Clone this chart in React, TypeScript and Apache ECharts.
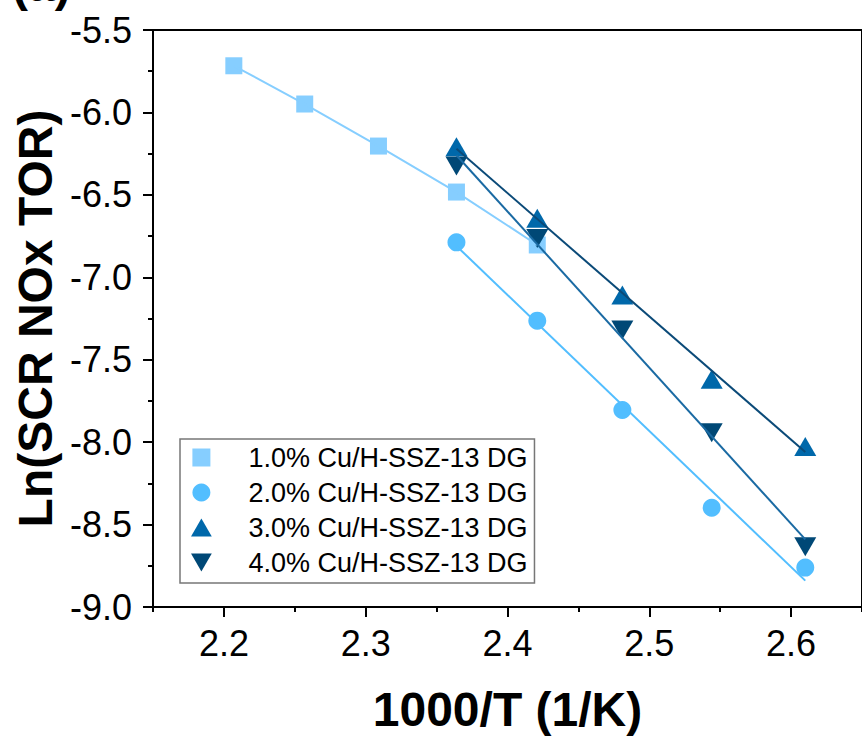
import React, { useEffect, useRef } from "react";
import * as echarts from "echarts";

// ---- data ----
const seriesNames = [
  "1.0% Cu/H-SSZ-13 DG",
  "2.0% Cu/H-SSZ-13 DG",
  "3.0% Cu/H-SSZ-13 DG",
  "4.0% Cu/H-SSZ-13 DG",
];
const cu1X = [2.207, 2.257, 2.309, 2.364, 2.421];
const cu1Y = [-5.717, -5.949, -6.204, -6.483, -6.804];
const cuHiX = [2.364, 2.421, 2.481, 2.544, 2.61];
const cu2Y = [-6.788, -7.263, -7.805, -8.398, -8.761];
const cu3Y = [-6.208, -6.642, -7.107, -7.619, -8.027];
const cu4Y = [-6.325, -6.764, -7.32, -7.943, -8.634];
// fitted lines (end points)
const fitX = [2.364, 2.61];
const fit2Y = [-6.81, -8.84];
const fit3Y = [-6.22, -8.06];
const fit4Y = [-6.26, -8.59];
const xMajorTicks = [2.2, 2.3, 2.4, 2.5, 2.6];
const xMinorTicks = [2.15, 2.25, 2.35, 2.45, 2.55, 2.65];

const markerColors = ["#86CEFF", "#52BEFF", "#0068AA", "#004876"];
const lineColors = ["#86CEFF", "#52BEFF", "#0B4A78", "#1A6AA3"];

const FONT = '"Liberation Sans", Arial, Helvetica, sans-serif';
const SQUARE = "path://M0,0H10V10H0Z";
const UP = "path://M5,0L10,8.66L0,8.66Z";
const DOWN = "path://M0,0L10,0L5,8.66Z";

const zip = (xs: number[], ys: number[]) => xs.map((x, i) => [x, ys[i]]);

export default function App() {
  const ref = useRef<HTMLDivElement>(null);
  useEffect(() => {
    if (!ref.current) return;
    const chart = echarts.init(ref.current, undefined, { renderer: "svg" });
    const symbols = [SQUARE, "circle", UP, DOWN];
    const sizes: any[] = [17, 18, [22, 19], [22, 19]];
    const ys = [cu1Y, cu2Y, cu3Y, cu4Y];
    const xs = [cu1X, cuHiX, cuHiX, cuHiX];
    const scatters = seriesNames.map((name, i) => ({
      type: "scatter",
      name,
      data: zip(xs[i], ys[i]),
      symbol: symbols[i],
      symbolKeepAspect: false,
      symbolSize: sizes[i],
      itemStyle: { color: markerColors[i], opacity: 1 },
      z: 2,
    }));
    const lineDefs = [
      zip(cu1X, cu1Y),
      zip(fitX, fit2Y),
      zip(fitX, fit3Y),
      zip(fitX, fit4Y),
    ];
    const lines = lineDefs.map((d, i) => ({
      type: "line",
      name: "fit" + i,
      data: d,
      showSymbol: false,
      symbol: "none",
      lineStyle: { color: lineColors[i], width: 2 },
      itemStyle: { color: lineColors[i] },
      z: 3,
      silent: true,
    }));
    chart.setOption({
      animation: false,
      backgroundColor: "#ffffff",
      textStyle: { fontFamily: FONT },
      grid: {
        left: 153,
        top: 30,
        right: -4,
        bottom: 131,
        show: true,
        borderColor: "#000",
        borderWidth: 2,
        backgroundColor: "transparent",
      },
      legend: {
        orient: "vertical",
        left: 180,
        top: 439,
        padding: [5, 7, 7, 11],
        itemGap: 8,
        itemWidth: 40,
        itemHeight: 18,
        borderColor: "#777",
        borderWidth: 1.5,
        data: seriesNames.map((n, i) => ({ name: n, icon: symbols[i] })),
        textStyle: {
          fontFamily: FONT,
          fontSize: 27,
          color: "#000",
          padding: [0, 0, 0, 22],
        },
      },
      xAxis: [
        {
          type: "value",
          min: 2.15,
          max: 2.65,
          position: "bottom",
          name: "1000/T (1/K)",
          nameLocation: "middle",
          nameGap: 78,
          nameTextStyle: { fontFamily: FONT, fontSize: 48, fontWeight: "bold", color: "#000" },
          axisLine: { show: true, onZero: false, lineStyle: { color: "#000", width: 2 } },
          axisTick: {
            show: true,
            inside: false,
            length: 10,
            customValues: xMajorTicks,
            lineStyle: { color: "#000", width: 2 },
          },
          axisLabel: {
            show: true,
            customValues: xMajorTicks,
            margin: 18,
            fontSize: 36,
            fontFamily: FONT,
            color: "#000",
            formatter: (v: number) => v.toFixed(1),
          },
          splitLine: { show: false },
        },
        {
          type: "value",
          min: 2.15,
          max: 2.65,
          position: "bottom",
          axisLine: { show: false, onZero: false },
          axisTick: {
            show: true,
            inside: false,
            length: 5,
            customValues: xMinorTicks,
            lineStyle: { color: "#000", width: 2 },
          },
          axisLabel: { show: false },
          splitLine: { show: false },
        },
      ],
      yAxis: {
        type: "value",
        min: -9,
        max: -5.5,
        interval: 0.5,
        name: "Ln(SCR NOx TOR)",
        nameLocation: "middle",
        nameGap: 94,
        nameTextStyle: { fontFamily: FONT, fontSize: 48, fontWeight: "bold", color: "#000" },
        axisLine: { show: true, onZero: false, lineStyle: { color: "#000", width: 2 } },
        axisTick: { show: true, inside: false, length: 10, lineStyle: { color: "#000", width: 2 } },
        minorTick: { show: true, splitNumber: 2, length: 5, lineStyle: { color: "#000", width: 2 } },
        axisLabel: {
          margin: 21,
          fontSize: 36,
          fontFamily: FONT,
          color: "#000",
          formatter: (v: number) => v.toFixed(1),
        },
        splitLine: { show: false },
      },
      graphic: [
        {
          type: "text",
          left: 12,
          top: -40,
          style: { text: "(a)", font: `bold 48px ${FONT}`, fill: "#000" },
        },
      ],
      series: [...scatters, ...lines],
    });
    return () => chart.dispose();
  }, []);
  return (
    <div
      ref={ref}
      style={{ position: "fixed", left: 0, top: 0, width: 862, height: 738, background: "#fff" }}
    />
  );
}
